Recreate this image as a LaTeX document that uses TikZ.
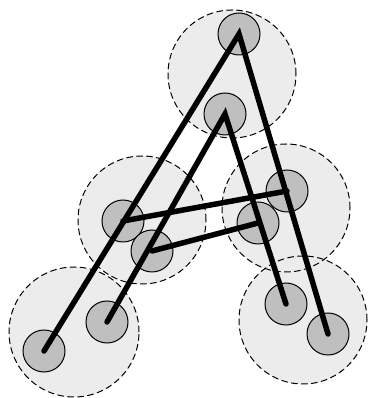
\documentclass[tikz,border=0pt]{standalone}
\begin{document}
\begin{tikzpicture}[
    x=1pt, y=1pt,
    line cap=round,
    regiao/.style={circle, fill=gray!15, minimum size=128pt, inner sep=0pt},
    borda/.style={draw, dash pattern=on 6pt off 4pt, line width=1pt},
    ponto/.style={circle, draw, fill=gray!50, line width=1pt, minimum size=42pt, inner sep=0pt},
    traco/.style={line width=5.5pt}
]
\useasboundingbox (0,0) rectangle (367,398);

% As regioes (so o fundo)
\node[regiao] (rT) at (232,324) {};
\node[regiao] (rE) at (142,178) {};
\node[regiao] (rD) at (286,190) {};
\node[regiao, minimum size=130pt] (rBE) at (74,66) {};
\node[regiao] (rBD) at (303,78) {};

% Bordas tracejadas
\draw[borda] (rT) circle[radius=64pt];
\draw[borda] (rE) circle[radius=64pt];
\draw[borda] (rD) circle[radius=64pt];
\draw[borda] (rBE) circle[radius=65pt];
\draw[borda] (rBD) circle[radius=64pt];

% Pontos
\node[ponto] (a) at (239,364) {};
\node[ponto] (b) at (225,284) {};
\node[ponto] (c) at (123,177) {};
\node[ponto] (d) at (152,147) {};
\node[ponto] (e) at (287,207) {};
\node[ponto] (f) at (258,175) {};
\node[ponto] (g) at (107,76) {};
\node[ponto] (h) at (44,47) {};
\node[ponto] (i) at (286,94) {};
\node[ponto] (j) at (328,64) {};

% A letra
\draw[traco] (h.center) -- (a.center) -- (j.center);
\draw[traco] (g.center) -- (b.center) -- (i.center);
\draw[traco] (c.center) -- (e.center);
\draw[traco] (d.center) -- (f.center);

\end{tikzpicture}
\end{document}
